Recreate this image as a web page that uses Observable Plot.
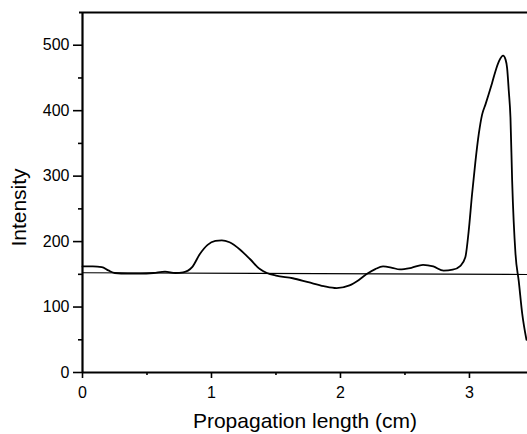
<!DOCTYPE html>
<html>
<head>
<meta charset="utf-8">
<script src="https://cdn.jsdelivr.net/npm/d3@7"></script>
<script src="https://cdn.jsdelivr.net/npm/@observablehq/plot@0.6"></script>
<style>
  html, body { margin: 0; padding: 0; background: #fff; }
  #chart svg { display: block; }
</style>
</head>
<body>
<div id="chart"></div>
<script>
// Measured intensity profile along propagation length (cm)
const lengthCm = [0.00, 0.08, 0.15, 0.20, 0.25, 0.35, 0.45, 0.55, 0.64, 0.72, 0.78, 0.85, 0.91, 0.97, 1.03, 1.08, 1.14, 1.22, 1.30, 1.375, 1.43, 1.50, 1.63, 1.75, 1.87, 1.97, 2.07, 2.14, 2.20, 2.27, 2.33, 2.40, 2.46, 2.55, 2.64, 2.72, 2.80, 2.87, 2.93, 2.968, 2.994, 3.02, 3.045, 3.072, 3.098, 3.125, 3.149, 3.175, 3.201, 3.23, 3.261, 3.28, 3.292, 3.305, 3.318, 3.331, 3.357, 3.382, 3.409, 3.442];
const intensity = [162, 162, 161, 156, 152, 151, 151, 152, 154, 152, 153, 161, 181, 195, 201, 202, 199, 188, 173, 158, 152, 148, 144, 138, 132, 129, 133, 141, 150, 158, 162, 160, 157.5, 160, 164.5, 162, 155.5, 157, 163, 176, 216, 272, 320, 364, 394, 410, 425, 442, 460, 476, 484, 478, 465, 430, 389, 293, 181, 140, 90, 50];

// Straight reference (fit) line
const fitX = [0, 3.45];
const fitY = [152.5, 149.8];

// Axis ticks and labels
const yTicks = [0, 100, 200, 300, 400, 500];
const yMinor = [50, 150, 250, 350, 450];
const xTicks = [0, 1, 2, 3];
const xMinor = [0.5, 1.5, 2.5];
const xTitle = "Propagation length (cm)";
const yTitle = "Intensity";

const curve = lengthCm.map((x, i) => ({x, y: intensity[i]}));
const fit = fitX.map((x, i) => ({x, y: fitY[i]}));

const chart = Plot.plot({
  width: 527,
  height: 434,
  marginLeft: 82,
  marginRight: 0,
  marginTop: 12,
  marginBottom: 62,
  style: {fontFamily: "'Liberation Sans', Arial, sans-serif", fontSize: "16px", color: "#000", background: "#fff"},
  x: {domain: [0, 3.45]},
  y: {domain: [0, 550]},
  marks: [
    Plot.axisY(yTicks, {tickSize: 9, tickPadding: 4, strokeWidth: 1.6, fontSize: 16, tickFormat: d3.format("d"), label: null}),
    Plot.axisY(yMinor, {tickSize: 4, text: null, strokeWidth: 1.6, label: null}),
    Plot.axisX(xTicks, {tickSize: 6, tickPadding: 8, strokeWidth: 1.6, fontSize: 16, tickFormat: d3.format("d"), label: null}),
    Plot.axisX(xMinor, {tickSize: 3, text: null, strokeWidth: 1.6, label: null}),
    Plot.line(fit, {x: "x", y: "y", stroke: "#000", strokeWidth: 1.1}),
    Plot.line(curve, {x: "x", y: "y", stroke: "#000", strokeWidth: 1.8, curve: "monotone-x"}),
    Plot.ruleX([0], {y1: 0, y2: 550, stroke: "#000", strokeWidth: 2.2}),
    Plot.ruleY([0], {stroke: "#000", strokeWidth: 2.2}),
    Plot.ruleY([550], {stroke: "#000", strokeWidth: 2.2, insetLeft: -3}),
    Plot.text([xTitle], {frameAnchor: "bottom", textAnchor: "middle", lineAnchor: "bottom", dy: 55, fontSize: 21, fill: "#000"}),
    Plot.text([yTitle], {frameAnchor: "left", textAnchor: "middle", lineAnchor: "bottom", rotate: -90, dx: -57, dy: 15, fontSize: 21, fill: "#000"})
  ]
});

document.getElementById("chart").appendChild(chart);
</script>
</body>
</html>
